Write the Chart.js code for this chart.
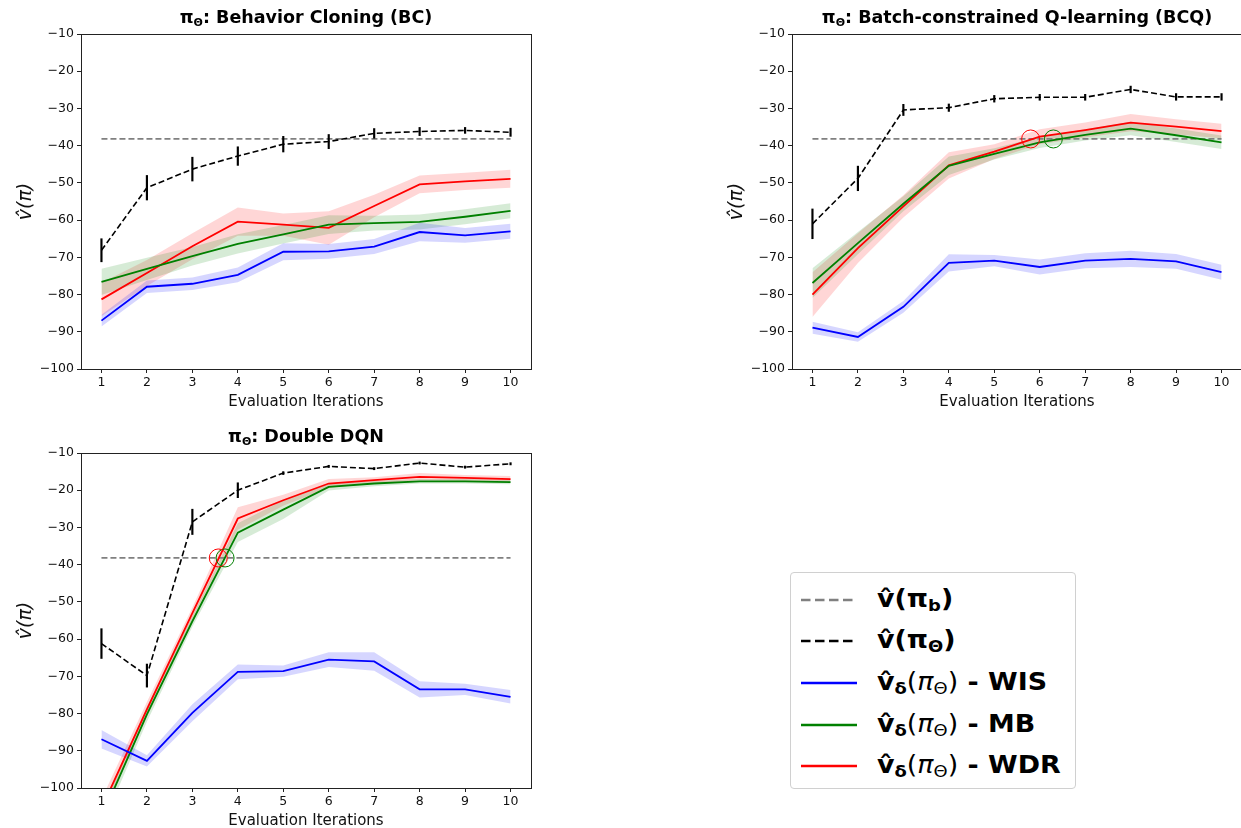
<!DOCTYPE html>
<html>
<head>
<meta charset="utf-8">
<script src="https://cdn.jsdelivr.net/npm/chart.js@4.4.1/dist/chart.umd.min.js"></script>
<style>
  html, body { margin: 0; padding: 0; background: #fff; overflow: hidden; }
  body { width: 1241px; height: 828px; position: relative; font-family: 'DejaVu Sans', sans-serif; color: #000; }
  .panel { position: absolute; width: 560px; height: 420px; }
  .ptitle { position: absolute; transform: translate(-50%, -50%); white-space: nowrap;
            font-weight: bold; font-size: 17.5px; }
  .ptitle sub { font-size: 11px; vertical-align: -3px; }
  #legend { position: absolute; left: 790px; top: 572px; width: 286px; height: 217px;
            border: 1px solid #d0d0d0; border-radius: 4px; box-sizing: border-box; padding-top: 6px; }
  .lrow { position: relative; height: 41.6px; display: flex; align-items: center; }
  .lrow svg { position: absolute; left: 9px; top: 50%; margin-top: -5px; }
  .ltext { position: absolute; left: 86px; font-size: 24px; font-weight: bold; white-space: nowrap;
           transform: scaleX(1.12); transform-origin: left center; }
  .ltext sub { font-size: 16px; vertical-align: -4px; }
  .ltext .n { font-weight: normal; }
  .ltext .n sub { font-weight: normal; }
</style>
</head>
<body>

<div class="panel" style="left:0;top:0"><canvas id="c-bc" width="560" height="420"></canvas></div>
<div class="panel" style="left:711px;top:0"><canvas id="c-bcq" width="560" height="420"></canvas></div>
<div class="panel" style="left:0;top:419px"><canvas id="c-dqn" width="560" height="420"></canvas></div>

<div class="ptitle" style="left:306px;top:18px">π<sub>Θ</sub>: Behavior Cloning (BC)</div>
<div class="ptitle" style="left:1017px;top:18px">π<sub>Θ</sub>: Batch-constrained Q-learning (BCQ)</div>
<div class="ptitle" style="left:306px;top:437px">π<sub>Θ</sub>: Double DQN</div>

<div id="legend"></div>

<script>
'use strict';

/* ── Eixos ── */
const ITERS   = [1, 2, 3, 4, 5, 6, 7, 8, 9, 10];
const Y_TICKS = [-100, -90, -80, -70, -60, -50, -40, -30, -20, -10];
const PI_B    = -38.2;   /* valor da política de comportamento (linha cinza) */

/* ── BC ── */
const BC_THETA     = [-68.1, -51.3, -46.3, -42.8, -39.6, -38.9, -36.7, -36.2, -35.9, -36.4];
const BC_THETA_ERR = [3.1, 3.3, 3.2, 2.5, 2.1, 1.9, 1.3, 1.1, 0.8, 1.1];
const BC_WIS       = [-87.0, -77.9, -77.1, -74.7, -68.5, -68.4, -67.1, -63.2, -64.1, -63.0];
const BC_WIS_SD    = [1.6, 1.7, 1.7, 2.0, 2.3, 2.0, 2.0, 2.5, 2.0, 2.0];
const BC_MB        = [-76.6, -73.1, -69.7, -66.4, -63.8, -61.2, -60.8, -60.5, -59.1, -57.5];
const BC_MB_SD     = [3.5, 3.0, 2.5, 2.6, 2.5, 2.5, 2.0, 2.0, 2.0, 2.0];
const BC_WDR       = [-81.3, -74.2, -67.0, -60.4, -61.2, -62.1, -56.2, -50.4, -49.6, -48.9];
const BC_WDR_SD    = [4.5, 3.5, 3.5, 3.8, 3.0, 4.5, 3.0, 2.4, 2.3, 2.4];
const BC_CROSS_X   = [];   /* sem marcadores de cruzamento */
const BC_CROSS_C   = [];

/* ── BCQ ── */
const BQ_THETA     = [-61.0, -48.8, -30.4, -29.8, -27.4, -27.0, -27.0, -24.9, -26.9, -26.9];
const BQ_THETA_ERR = [4.0, 3.3, 1.5, 1.0, 0.9, 0.8, 0.8, 0.9, 0.9, 0.9];
const BQ_WIS       = [-88.9, -91.4, -83.3, -71.5, -70.9, -72.6, -70.9, -70.4, -71.1, -74.0];
const BQ_WIS_SD    = [1.6, 1.3, 1.6, 2.3, 1.5, 2.0, 2.0, 2.2, 2.0, 2.0];
const BQ_MB        = [-76.9, -66.2, -55.6, -45.4, -42.2, -39.1, -37.1, -35.4, -37.2, -39.1];
const BQ_MB_SD     = [4.0, 3.0, 2.0, 2.5, 1.5, 1.5, 1.5, 1.8, 1.8, 1.8];
const BQ_WDR       = [-80.0, -67.5, -56.3, -45.3, -41.6, -37.6, -35.8, -33.8, -34.9, -36.1];
const BQ_WDR_SD    = [6.0, 4.0, 3.0, 3.5, 2.0, 2.0, 2.0, 2.3, 2.0, 2.0];
const BQ_CROSS_X   = [5.8, 6.3];
const BQ_CROSS_C   = ['#ff0000', '#008000'];

/* ── Double DQN ── */
const DQ_THETA     = [-61.2, -69.8, -28.5, -20.0, -15.4, -13.6, -14.2, -12.7, -13.8, -12.9];
const DQ_THETA_ERR = [4.0, 3.1, 3.4, 2.0, 0.4, 0.3, 0.3, 0.3, 0.3, 0.3];
const DQ_WIS       = [-86.9, -92.7, -79.8, -68.8, -68.6, -65.5, -66.0, -73.5, -73.5, -75.5];
const DQ_WIS_SD    = [2.5, 1.5, 2.3, 2.0, 1.5, 2.0, 2.5, 2.2, 1.5, 1.8];
const DQ_MB        = [-108.0, -80.2, -55.2, -31.4, -25.2, -19.1, -18.2, -17.6, -17.6, -17.8];
const DQ_MB_SD     = [2.5, 2.0, 1.5, 2.5, 2.5, 1.0, 0.7, 0.6, 0.6, 0.6];
const DQ_WDR       = [-105.5, -78.9, -53.0, -27.6, -22.7, -18.2, -17.3, -16.4, -16.7, -17.0];
const DQ_WDR_SD    = [2.5, 2.0, 1.5, 3.0, 1.5, 1.2, 0.8, 1.0, 0.8, 0.8];
const DQ_CROSS_X   = [3.57, 3.72];
const DQ_CROSS_C   = ['#ff0000', '#008000'];

/* ── Legenda ── */
const LEGEND_LABELS = [
  'v\u0302(π<sub>b</sub>)',
  'v\u0302(π<sub>Θ</sub>)',
  'v\u0302<sub>δ</sub><span class="n">(<i>π</i><sub>Θ</sub>)</span> - WIS',
  'v\u0302<sub>δ</sub><span class="n">(<i>π</i><sub>Θ</sub>)</span> - MB',
  'v\u0302<sub>δ</sub><span class="n">(<i>π</i><sub>Θ</sub>)</span> - WDR',
];
const LEGEND_COLORS = ['#808080', '#000000', '#0000ff', '#008000', '#ff0000'];
const LEGEND_DASHED = [true, true, false, false, false];

/* ============================================================
   HELPERS
   ============================================================ */

Chart.defaults.font.family = "'DejaVu Sans', sans-serif";
Chart.defaults.color = '#111';

const xy = arr => ITERS.map((x, i) => ({ x, y: arr[i] }));

/* Banda sombreada (média ± desvio) como par de datasets com fill */
function band(mean, sd, rgba) {
  return [
    { data: xy(mean.map((v, i) => v + sd[i])), borderWidth: 0, pointRadius: 0, fill: false, order: 6 },
    { data: xy(mean.map((v, i) => v - sd[i])), borderWidth: 0, pointRadius: 0, fill: '-1',
      backgroundColor: rgba, order: 6 },
  ];
}

function solid(mean, color) {
  return { data: xy(mean), borderColor: color, borderWidth: 1.8, pointRadius: 0, fill: false, order: 1 };
}

/* Moldura completa da área do gráfico (estilo matplotlib) */
const boxPlugin = {
  id: 'box',
  afterDraw(chart) {
    const { ctx, chartArea: a } = chart;
    ctx.save();
    ctx.strokeStyle = '#222';
    ctx.lineWidth = 1;
    ctx.strokeRect(Math.round(a.left) + 0.5, Math.round(a.top) + 0.5,
                   Math.round(a.right - a.left), Math.round(a.bottom - a.top));
    ctx.restore();
  },
};

function makePanel(id, p) {
  const datasets = [
    ...band(p.wis, p.wisSd, 'rgba(0,0,255,0.16)'),
    ...band(p.mb,  p.mbSd,  'rgba(0,128,0,0.16)'),
    ...band(p.wdr, p.wdrSd, 'rgba(255,0,0,0.16)'),
    { data: [{ x: 1, y: PI_B }, { x: 10, y: PI_B }], borderColor: '#808080', borderWidth: 1.8,
      borderDash: [6, 3], pointRadius: 0, fill: false, order: 3 },
    { data: xy(p.theta), borderColor: '#000', borderWidth: 1.6, borderDash: [6, 3],
      pointRadius: 0, fill: false, order: 2 },
    { type: 'bar', data: ITERS.map((x, i) => ({ x, y: [p.theta[i] - p.err[i], p.theta[i] + p.err[i]] })),
      backgroundColor: '#000', borderWidth: 0, barThickness: 1.5, order: 2 },
    solid(p.wis, '#0000ff'),
    solid(p.mb,  '#008000'),
    solid(p.wdr, '#ff0000'),
    ...p.crossX.map((x, i) => ({
      data: [{ x, y: PI_B }], showLine: false, pointRadius: 9, pointStyle: 'circle',
      pointBackgroundColor: 'rgba(0,0,0,0)', pointBorderColor: p.crossC[i], pointBorderWidth: 1, order: 0,
    })),
  ];

  return new Chart(document.getElementById(id), {
    type: 'line',
    data: { datasets },
    plugins: [boxPlugin],
    options: {
      responsive: false,
      animation: false,
      events: [],
      layout: { padding: { top: 34, right: 29, bottom: 0, left: 0 } },
      plugins: { legend: { display: false }, tooltip: { enabled: false } },
      scales: {
        x: {
          type: 'linear', min: 0.55, max: 10.45, offset: false,
          afterBuildTicks: sc => { sc.ticks = ITERS.map(v => ({ value: v })); },
          afterFit: sc => { sc.height = 51; },
          grid: { display: true, offset: false, drawOnChartArea: false, drawTicks: true, tickLength: 4, color: '#222' },
          border: { display: false },
          ticks: { font: { size: 12.5 }, padding: 2, maxRotation: 0, color: '#111' },
          title: { display: true, text: 'Evaluation Iterations', font: { size: 15 },
                   padding: { top: 0, bottom: 9 }, color: '#111' },
        },
        y: {
          type: 'linear', min: -100, max: -10,
          afterBuildTicks: sc => { sc.ticks = Y_TICKS.map(v => ({ value: v })); },
          afterFit: sc => { sc.width = 81; },
          grid: { display: true, offset: false, drawOnChartArea: false, drawTicks: true, tickLength: 4, color: '#222' },
          border: { display: false },
          ticks: { font: { size: 12.5 }, padding: 3, color: '#111',
                   callback: v => (v < 0 ? '\u2212' : '') + Math.abs(v) },
          title: { display: true, text: 'v\u0302(π)', font: { size: 19, style: 'italic' },
                   padding: { top: 15, bottom: 0 }, color: '#111' },
        },
      },
    },
  });
}

/* ============================================================
   PAINÉIS
   ============================================================ */

makePanel('c-bc', {
  theta: BC_THETA, err: BC_THETA_ERR, wis: BC_WIS, wisSd: BC_WIS_SD,
  mb: BC_MB, mbSd: BC_MB_SD, wdr: BC_WDR, wdrSd: BC_WDR_SD, crossX: BC_CROSS_X, crossC: BC_CROSS_C,
});
makePanel('c-bcq', {
  theta: BQ_THETA, err: BQ_THETA_ERR, wis: BQ_WIS, wisSd: BQ_WIS_SD,
  mb: BQ_MB, mbSd: BQ_MB_SD, wdr: BQ_WDR, wdrSd: BQ_WDR_SD, crossX: BQ_CROSS_X, crossC: BQ_CROSS_C,
});
makePanel('c-dqn', {
  theta: DQ_THETA, err: DQ_THETA_ERR, wis: DQ_WIS, wisSd: DQ_WIS_SD,
  mb: DQ_MB, mbSd: DQ_MB_SD, wdr: DQ_WDR, wdrSd: DQ_WDR_SD, crossX: DQ_CROSS_X, crossC: DQ_CROSS_C,
});

/* Legenda manual (texto com sub-índices) */
document.getElementById('legend').innerHTML = LEGEND_LABELS.map((lbl, i) => `
  <div class="lrow">
    <svg width="58" height="10"><line x1="1" y1="5" x2="57" y2="5" stroke="${LEGEND_COLORS[i]}"
      stroke-width="2.6" ${LEGEND_DASHED[i] ? 'stroke-dasharray="9.5,4.5"' : ''}/></svg>
    <span class="ltext">${lbl}</span>
  </div>`).join('');
</script>
</body>
</html>
